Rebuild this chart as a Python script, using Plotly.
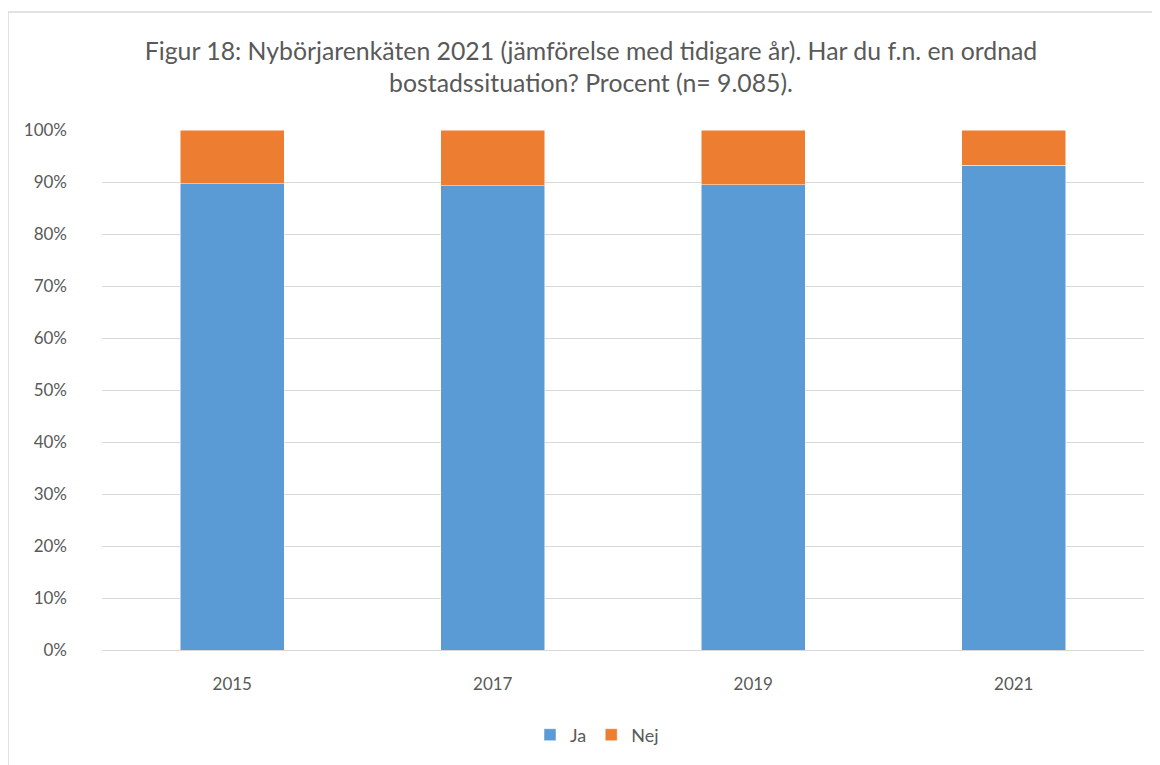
import plotly.graph_objects as go

years = ["2015", "2017", "2019", "2021"]
ja = [89.7, 89.3, 89.5, 93.2]
nej = [10.3, 10.7, 10.5, 6.8]
y_ticks = [0, 10, 20, 30, 40, 50, 60, 70, 80, 90, 100]
y_labels = [f"{v}%" for v in y_ticks]

title_text = ("Figur 18: Nybörjarenkäten 2021 (jämförelse med tidigare år). Har du f.n. en ordnad"
              "<br>bostadssituation? Procent (n= 9.085).")

FONT = "Lato"
GRAY = "#595959"
W, H = 1152, 757
L, R, T, B = 94, 16, 122, 115
PW, PH = W - L - R, H - T - B

fig = go.Figure()
fig.add_trace(go.Bar(x=years, y=ja, name="Ja", marker=dict(color="#5B9BD5", line=dict(color="white", width=0.5))))
fig.add_trace(go.Bar(x=years, y=nej, name="Nej", marker=dict(color="#ED7D31", line=dict(color="white", width=0.5))))

fig.update_layout(
    barmode="stack",
    bargap=0.6,
    width=W, height=H,
    margin=dict(l=L, r=R, t=T, b=B),
    paper_bgcolor="white", plot_bgcolor="white",
    font=dict(family=FONT, color=GRAY, size=16),
    title=dict(text=title_text, x=(583 - L) / PW, xref="paper", xanchor="center",
               y=1 - 52 / H, yref="container", yanchor="top",
               font=dict(family=FONT, size=24.8, color=GRAY)),
    legend=dict(orientation="h", x=(589 - L) / PW, xanchor="center", y=(642 - 727) / PH, yanchor="middle",
                font=dict(family=FONT, size=18, color=GRAY), traceorder="normal",
                itemwidth=30),
    shapes=[dict(type="rect", xref="paper", yref="paper",
                 x0=(0 - L) / PW, x1=(W + 10 - L) / PW, y0=(B - H - 10) / PH, y1=(H - 4 - B) / PH,
                 line=dict(color="#D9D9D9", width=1.5), layer="below")],
)
fig.update_yaxes(range=[0, 100], tickvals=y_ticks, ticktext=y_labels,
                 showgrid=True, gridcolor="#D9D9D9", gridwidth=1.3, zeroline=False,
                 showline=False, ticks="", ticklen=0, tickfont=dict(size=17, color=GRAY),
                 ticklabelstandoff=34, automargin=False)
fig.update_xaxes(showline=True, linecolor="#D9D9D9", linewidth=1.3, ticks="",
                 tickfont=dict(size=17, color=GRAY), ticklabelstandoff=18, automargin=False)

fig.write_html("out.html")
